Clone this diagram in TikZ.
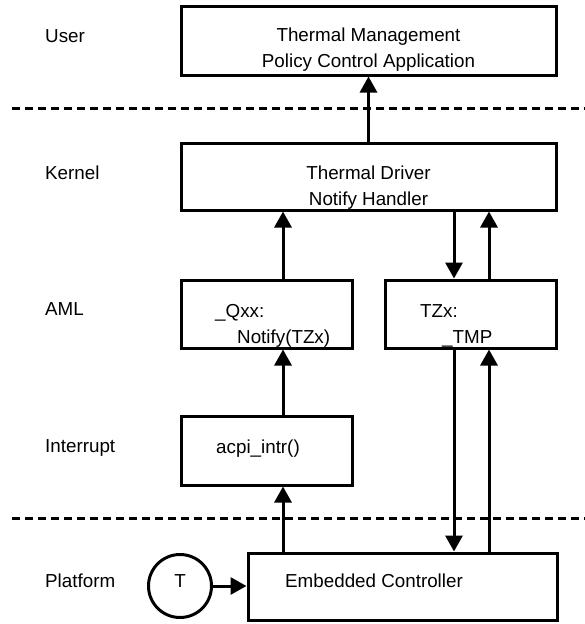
\documentclass[tikz,border=0pt]{standalone}
\usepackage{fontspec}
\setmainfont{Liberation Sans}
\usetikzlibrary{arrows.meta}

\tikzset{
        box/.style={draw, line width=3pt, inner sep=0pt},
        txt/.style={inner sep=0pt, font=\fontsize{18.8}{25.5}\selectfont},
        flow/.style={line width=3pt, -{Triangle[length=16pt,width=17pt]}},
        layer/.style={line width=3pt, dash pattern=on 8pt off 5pt},
}

\begin{document}
\begin{tikzpicture}[x=1pt,y=-1pt]
        \useasboundingbox (0,0) rectangle (585,624);

        % layers
        \foreach \name/\y in {User/42, Kernel/179, AML/315, Interrupt/452, Platform/587}
            \node[txt, anchor=base west] (\name) at (45,\y) {\name};

        \foreach \y in {108, 518}
            \draw[layer] (12,\y) -- (585,\y);

        % boxes
        \node[box, minimum width=375pt, minimum height=69pt] (app) at (368.5,40.5) {};
        \node[box, minimum width=375pt, minimum height=67pt] (kern) at (368.5,176.5) {};
        \node[box, minimum width=171pt, minimum height=68pt] (qxx) at (266.5,314) {};
        \node[box, minimum width=171pt, minimum height=68pt] (tzx) at (470.5,314) {};
        \node[box, minimum width=171pt, minimum height=69pt] (acpi) at (266.5,450.5) {};
        \node[box, minimum width=309pt, minimum height=67pt] (ec) at (402.5,586.5) {};
        \node[box, circle, minimum size=63pt] (sensor) at (180,586) {};

        \node[txt, align=center, anchor=base] (apptext) at (368.5,67) {Thermal Management\\Policy Control Application};
        \node[txt, align=center, anchor=base] (kerntext) at (368.5,205) {Thermal Driver\\Notify Handler};
        \node[txt, align=left, anchor=base west] (qxxtext) at (215,343) {\_Qxx:\\\hspace*{22pt}Notify(TZx)};
        \node[txt, align=left, anchor=base west] (tzxtext) at (420,343) {TZx:\\\hspace*{22pt}\_TMP};
        \node[txt, anchor=base west] (acpitext) at (216,453) {acpi\_intr()};
        \node[txt, anchor=base west] (ectext) at (285,587) {Embedded Controller};
        \node[txt, anchor=base] (sensortext) at (180,587) {T};

        % arrows
        \draw[flow] (kern) -- (app);
        \draw[flow] ([xshift=16.5pt]qxx.north) -- ([xshift=16.5pt]qxx.north |- kern.south);
        \draw[flow] ([xshift=-16.5pt]tzx.north |- kern.south) -- ([xshift=-16.5pt]tzx.north);
        \draw[flow] ([xshift=18.5pt]tzx.north) -- ([xshift=18.5pt]tzx.north |- kern.south);
        \draw[flow] ([xshift=16.5pt]acpi.north) -- ([xshift=16.5pt]acpi.north |- qxx.south);
        \draw[flow] ([xshift=16.5pt]acpi.south |- ec.north) -- ([xshift=16.5pt]acpi.south);
        \draw[flow] ([xshift=-16.5pt]tzx.south) -- ([xshift=-16.5pt]tzx.south |- ec.north);
        \draw[flow] ([xshift=18.5pt]tzx.south |- ec.north) -- ([xshift=18.5pt]tzx.south);
        \draw[flow] (sensor) -- (sensor -| ec.west);
\end{tikzpicture}
\end{document}
